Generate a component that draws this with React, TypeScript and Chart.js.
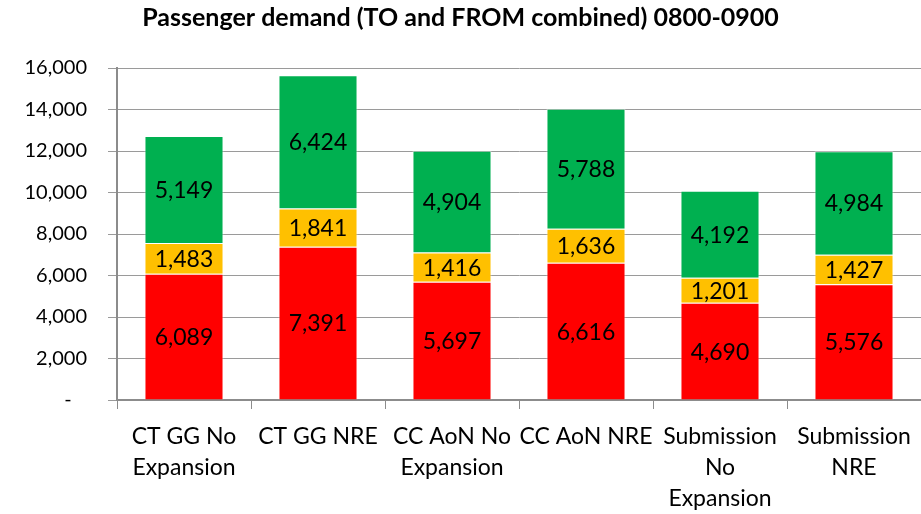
import React, { useEffect, useRef } from "react";
import { Chart, registerables } from "chart.js";

Chart.register(...registerables);

const categories: (string | string[])[] = [
  ["CT GG No", "Expansion"],
  "CT GG NRE",
  ["CC AoN No", "Expansion"],
  "CC AoN NRE",
  ["Submission", "No", "Expansion"],
  ["Submission", "NRE"],
];

const redValues = [6089, 7391, 5697, 6616, 4690, 5576];
const yellowValues = [1483, 1841, 1416, 1636, 1201, 1427];
const greenValues = [5149, 6424, 4904, 5788, 4192, 4984];

const yTickValues = [0, 2000, 4000, 6000, 8000, 10000, 12000, 14000, 16000];

const titleText = "Passenger demand (TO and FROM combined) 0800-0900";
const FONT = "Lato, 'Liberation Sans', sans-serif";

const fmt = (v: number) => v.toLocaleString("en-US");

const dataLabelPlugin = {
  id: "segLabels",
  afterDatasetsDraw(chart: any) {
    const ctx = chart.ctx;
    ctx.save();
    ctx.font = `23px ${FONT}`;
    ctx.fillStyle = "#000";
    ctx.textAlign = "center";
    ctx.textBaseline = "middle";
    chart.data.datasets.forEach((ds: any, di: number) => {
      const meta = chart.getDatasetMeta(di);
      meta.data.forEach((el: any, i: number) => {
        const v = ds.data[i];
        const y = (el.y + el.base) / 2;
        ctx.fillText(fmt(v), el.x, y + 1);
      });
    });
    ctx.restore();
  },
};

const barCommon = {
  borderColor: "rgba(255,255,255,0.5)",
  borderWidth: 1,
  categoryPercentage: 1,
  barPercentage: 0.59,
};

export default function App() {
  const ref = useRef<HTMLCanvasElement | null>(null);
  useEffect(() => {
    document.body.style.margin = "0";
    const canvas = ref.current!;
    const chart = new Chart(canvas, {
      type: "bar",
      data: {
        labels: categories as any,
        datasets: [
          { label: "Red", data: redValues, backgroundColor: "#FF0000", ...barCommon },
          { label: "Yellow", data: yellowValues, backgroundColor: "#FFC000", ...barCommon },
          { label: "Green", data: greenValues, backgroundColor: "#00B050", ...barCommon },
        ],
      },
      options: {
        responsive: false,
        animation: false,
        layout: { padding: { left: 0, right: 0, top: 0, bottom: 0 } },
        plugins: {
          legend: { display: false },
          tooltip: { enabled: false },
          title: {
            display: true,
            text: titleText,
            color: "#000",
            font: { family: FONT, size: 25, weight: "bold", lineHeight: 1.2 },
            padding: { top: 3, bottom: 35 },
          },
        },
        scales: {
          x: {
            stacked: true,
            offset: true,
            grid: { display: true, drawOnChartArea: false, drawTicks: true, tickLength: 9, color: "#8c8c8c", offset: true },
            border: { display: true, color: "#8c8c8c", width: 2 },
            ticks: {
              color: "#000",
              font: { family: FONT, size: 23, lineHeight: 1.35 },
              padding: 12,
              maxRotation: 0,
              autoSkip: false,
            },
            afterFit: (s: any) => { s.height = 114; s.paddingRight = 0; s.paddingLeft = 0; },
          } as any,
          y: {
            stacked: true,
            min: 0,
            max: 16000,
            afterBuildTicks: (s: any) => { s.ticks = yTickValues.map((v) => ({ value: v })); },
            grid: { color: "#9a9a9a", lineWidth: 1, tickLength: 9 },
            border: { display: true, color: "#8c8c8c", width: 2 },
            ticks: {
              color: "#000",
              font: { family: FONT, size: 20 },
              padding: 21,
              callback: (v: any) => (Number(v) === 0 ? "-   " : fmt(Number(v))),
            },
            afterFit: (s: any) => { s.width = 117; },
          },
        },
      },
      plugins: [dataLabelPlugin],
    });
    return () => chart.destroy();
  }, []);
  return (
    <div style={{ width: 921, height: 514 }}>
      <canvas ref={ref} width={921} height={514} />
    </div>
  );
}
